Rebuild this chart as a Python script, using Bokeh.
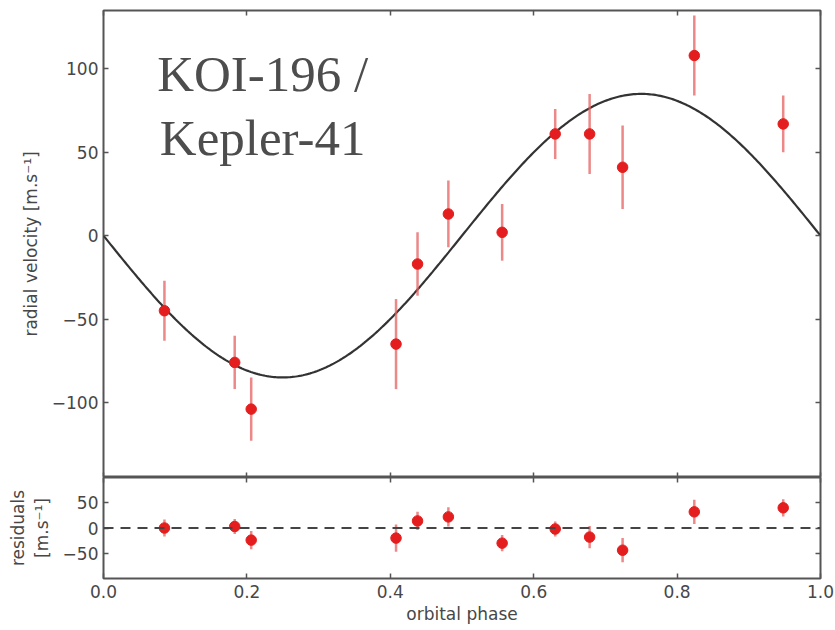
from bokeh.plotting import figure
from bokeh.layouts import column
from bokeh.models import (Range1d, LinearAxis, FixedTicker, CustomJSTickFormatter,
                          ColumnDataSource, Span, Label)
from bokeh.embed import file_html
from bokeh.resources import INLINE
import numpy as np

# ---- data ----
phase = [0.085, 0.183, 0.206, 0.408, 0.438, 0.481, 0.556, 0.630, 0.678, 0.724, 0.824, 0.948]
rv = [-45, -76, -104, -65, -17, 13, 2, 61, 61, 41, 108, 67]
rv_err = [18, 16, 19, 27, 19, 20, 17, 15, 24, 25, 24, 17]
resid = [0, 3, -24, -20, 14, 22, -30, -2, -18, -44, 32, 40]
resid_err = [17, 15, 18, 27, 18, 19, 16, 15, 22, 24, 24, 17]
K_model = 85.0  # semi-amplitude of the fitted circular-orbit model [m/s]

x_ticks = [0.0, 0.2, 0.4, 0.6, 0.8, 1.0]
rv_ticks = [-100, -50, 0, 50, 100]
res_ticks = [-50, 0, 50]

title_lines = ["KOI-196 /", "Kepler-41"]

# model curve
ph_model = np.linspace(0, 1, 400)
rv_model = -K_model * np.sin(2 * np.pi * ph_model)

FRAME = "#555555"
TXT = "#474747"
RED = "#e41e1e"
ERR = "#e66060"
FONT = "DejaVu Sans"
FS = "17px"

xfmt = CustomJSTickFormatter(code="return tick.toFixed(1);")
yfmt = CustomJSTickFormatter(code="return (tick < 0 ? '\u2212' : '') + Math.abs(tick).toFixed(0);")
blank = CustomJSTickFormatter(code="return '';")

x_range = Range1d(0, 1)


def style_axis(ax, labels=True):
    ax.major_tick_in = 5
    ax.major_tick_out = 0
    ax.minor_tick_line_color = None
    ax.axis_line_color = None
    ax.major_tick_line_color = FRAME
    ax.major_tick_line_width = 1.5
    ax.major_label_text_font = FONT
    ax.major_label_text_font_size = FS
    ax.major_label_text_color = TXT
    ax.axis_label_text_font = FONT
    ax.axis_label_text_font_size = FS
    ax.axis_label_text_color = TXT
    ax.axis_label_text_font_style = "normal"
    if not labels:
        ax.formatter = blank
        ax.major_label_text_font_size = "0px"
        ax.major_label_standoff = 0


def make_fig(frame_h, yr, border_top, border_bottom):
    p = figure(frame_width=717, frame_height=frame_h, x_range=x_range, y_range=yr,
               output_backend="svg", toolbar_location=None, tools="",
               min_border_left=103, min_border_right=15,
               min_border_top=border_top, min_border_bottom=border_bottom,
               x_axis_location=None, y_axis_location=None)
    p.background_fill_color = "white"
    p.border_fill_color = "white"
    p.outline_line_color = FRAME
    p.outline_line_width = 2
    p.xgrid.visible = False
    p.ygrid.visible = False
    return p


# ---------- main RV panel ----------
p1 = make_fig(467, Range1d(-145, 135), 10, 0)

left1 = LinearAxis(ticker=FixedTicker(ticks=rv_ticks), formatter=yfmt,
                   axis_label="radial velocity [m.s\u207b\u00b9]")
style_axis(left1)
left1.major_label_standoff = 5
left1.axis_label_standoff = 8
p1.add_layout(left1, "left")
right1 = LinearAxis(ticker=FixedTicker(ticks=rv_ticks))
style_axis(right1, labels=False)
p1.add_layout(right1, "right")
top1 = LinearAxis(ticker=FixedTicker(ticks=x_ticks))
style_axis(top1, labels=False)
p1.add_layout(top1, "above")
bot1 = LinearAxis(ticker=FixedTicker(ticks=x_ticks))
style_axis(bot1, labels=False)
p1.add_layout(bot1, "below")

src = ColumnDataSource(dict(
    x=phase, y=rv,
    lo=[v - e for v, e in zip(rv, rv_err)],
    hi=[v + e for v, e in zip(rv, rv_err)],
    r=resid,
    rlo=[v - e for v, e in zip(resid, resid_err)],
    rhi=[v + e for v, e in zip(resid, resid_err)],
))

p1.line(ph_model, rv_model, line_color="#333333", line_width=2.2)
p1.segment(x0="x", y0="lo", x1="x", y1="hi", source=src,
           line_color=ERR, line_alpha=0.75, line_width=2.5)
p1.scatter(x="x", y="y", source=src, size=10.5, fill_color=RED, line_color=RED)

p1.add_layout(Label(x=0.222, y=97, text=title_lines[0], text_align="center",
                    text_baseline="alphabetic", text_font="Liberation Serif",
                    text_font_size="51px", text_color="#4d4d4d"))
p1.add_layout(Label(x=0.222, y=58.5, text=title_lines[1], text_align="center",
                    text_baseline="alphabetic", text_font="Liberation Serif",
                    text_font_size="51px", text_color="#4d4d4d"))

# ---------- residual panel ----------
p2 = make_fig(101, Range1d(-100, 100), 0, 52)

left2 = LinearAxis(ticker=FixedTicker(ticks=res_ticks), formatter=yfmt,
                   axis_label="residuals\n[m.s\u207b\u00b9]")
style_axis(left2)
left2.major_label_standoff = 5
left2.axis_label_standoff = 8
p2.add_layout(left2, "left")
right2 = LinearAxis(ticker=FixedTicker(ticks=res_ticks))
style_axis(right2, labels=False)
p2.add_layout(right2, "right")
top2 = LinearAxis(ticker=FixedTicker(ticks=x_ticks))
style_axis(top2, labels=False)
p2.add_layout(top2, "above")
bot2 = LinearAxis(ticker=FixedTicker(ticks=x_ticks), formatter=xfmt,
                  axis_label="orbital phase")
style_axis(bot2)
bot2.major_label_standoff = 6
bot2.axis_label_standoff = 3
p2.add_layout(bot2, "below")

p2.add_layout(Span(location=0, dimension="width", line_color="#444444",
                   line_width=2, line_dash="10 7"))
p2.segment(x0="x", y0="rlo", x1="x", y1="rhi", source=src,
           line_color=ERR, line_alpha=0.75, line_width=2.5)
p2.scatter(x="x", y="r", source=src, size=10.5, fill_color=RED, line_color=RED)

layout = column(p1, p2, spacing=0)
open("out.html", "w").write(file_html(layout, INLINE))
